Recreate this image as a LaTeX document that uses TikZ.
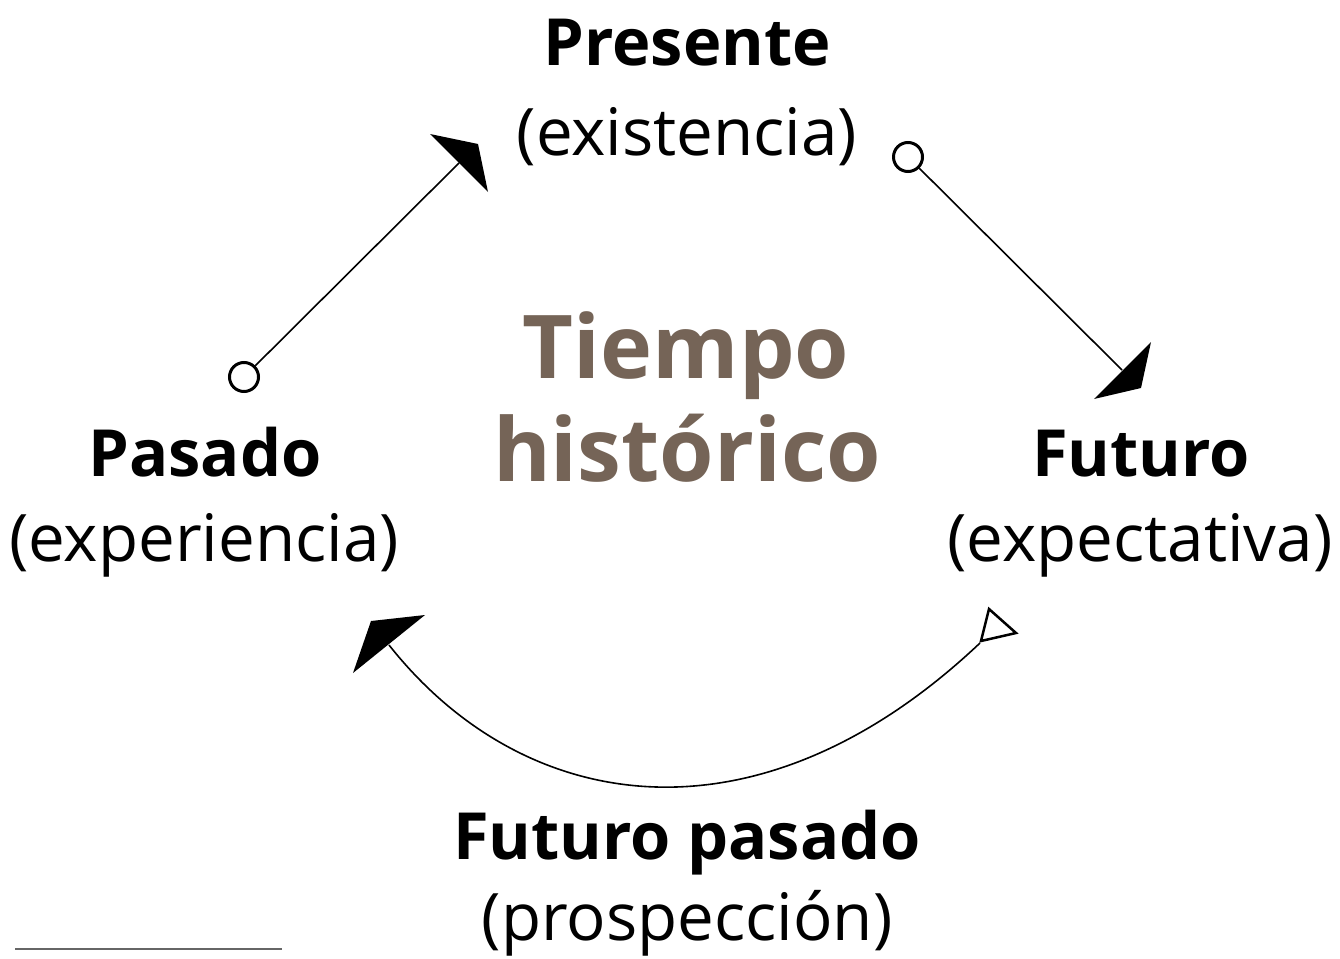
\documentclass[tikz,border=0pt]{standalone}
\usepackage{fontspec}
\setmainfont{Open Sans}
\usetikzlibrary{arrows.meta}
\definecolor{brownish}{RGB}{117,100,87}
\definecolor{rulegray}{RGB}{102,102,102}
\tikzset{
  lbl/.style={anchor=base, inner sep=0pt, font=\fontsize{65}{72}\selectfont\bfseries},
  sub/.style={anchor=base, inner sep=0pt, font=\fontsize{65.5}{72}\selectfont},
  center/.style={anchor=base, inner sep=0pt, text=brownish, font=\fontsize{88}{100}\selectfont\bfseries},
  conn/.style={line width=1.6pt},
  dot/.style={circle, draw, line width=3pt, minimum size=29pt, inner sep=0pt, fill=white},
  headfill/.style={fill=black},
}
\begin{document}
\begin{tikzpicture}[x=1pt,y=-1pt]
\useasboundingbox (0,0) rectangle (1340,958);
% texts
\node[lbl] (pres) at (687,65) {Presente};
\node[sub] (presS) at (687,155) {(existencia)};
\node[center] (t1) at (686,378) {Tiempo};
\node[center] (t2) at (687,481) {histórico};
\node[lbl] (pas) at (205,476) {Pasado};
\node[sub] (pasS) at (204,561) {(experiencia)};
\node[lbl] (fut) at (1141,476) {Futuro};
\node[sub] (futS) at (1140,561) {(expectativa)};
\node[lbl] (fp) at (687,859) {Futuro pasado};
\node[sub] (fpS) at (687,940) {(prospección)};
% connectors
\node[dot] (c1) at (244,377) {};
\node[dot] (c2) at (908,157) {};
\coordinate (a1) at (459,163);
\coordinate (a2) at (1122,370);
\coordinate (b0) at (980,643);
\coordinate (b1) at (389,645);
\draw[conn] (c1) -- (a1);
\draw[conn] (c2) -- (a2);
\draw[conn] (b0) .. controls (759,852) and (525,817) .. (b1);
% arrowheads
\fill[headfill] (478,144) -- (430,134) -- (488,192) -- cycle;
\fill[headfill] (1141,388) -- (1151,342) -- (1094,399) -- cycle;
\fill[headfill] (371,621) -- (425,615) -- (353,673) -- cycle;
\draw[line width=2.5pt, line join=miter, fill=white] (981,641) -- (989,609) -- (1016,633) -- cycle;
% rule
\draw[rulegray, line width=2.5pt] (15,949) -- (282,949);
\end{tikzpicture}
\end{document}
